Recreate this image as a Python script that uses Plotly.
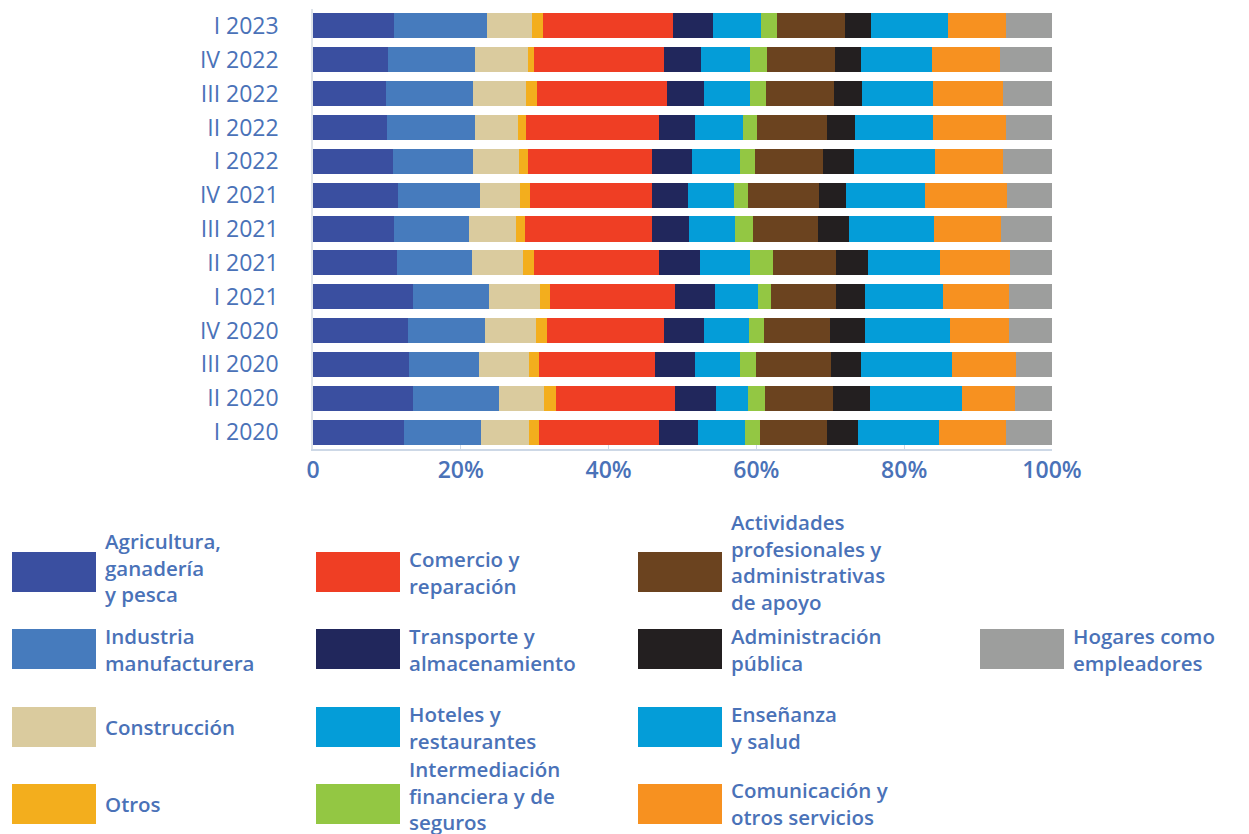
import plotly.graph_objects as go

# ---------------- data ----------------
periods = ["I 2023", "IV 2022", "III 2022", "II 2022", "I 2022", "IV 2021", "III 2021",
           "II 2021", "I 2021", "IV 2020", "III 2020", "II 2020", "I 2020"]

agricultura   = [11.0, 10.1, 9.9, 10.0, 10.8, 11.5, 11.0, 11.4, 13.5, 12.9, 13.0, 13.5, 12.3]
industria     = [12.6, 11.8, 11.8, 11.9, 10.8, 11.1, 10.1, 10.1, 10.3, 10.3, 9.5, 11.6, 10.4]
construccion  = [6.0, 7.2, 7.2, 5.8, 6.2, 5.4, 6.4, 6.9, 6.9, 6.9, 6.8, 6.1, 6.5]
otros         = [1.5, 0.8, 1.4, 1.2, 1.2, 1.4, 1.2, 1.5, 1.4, 1.5, 1.4, 1.6, 1.4]
comercio      = [17.6, 17.5, 17.6, 17.9, 16.8, 16.5, 17.2, 16.9, 16.9, 15.8, 15.7, 16.1, 16.2]
transporte    = [5.4, 5.1, 5.1, 4.9, 5.4, 4.9, 5.0, 5.5, 5.4, 5.5, 5.4, 5.5, 5.3]
hoteles       = [6.5, 6.6, 6.2, 6.6, 6.5, 6.2, 6.2, 6.8, 5.8, 6.1, 6.1, 4.3, 6.4]
intermediacion = [2.2, 2.3, 2.2, 1.8, 2.0, 1.9, 2.4, 3.1, 1.8, 2.0, 2.2, 2.3, 2.0]
actividades   = [9.2, 9.2, 9.2, 9.5, 9.3, 9.6, 8.9, 8.5, 8.8, 8.9, 10.1, 9.2, 9.1]
administracion = [3.5, 3.5, 3.7, 3.8, 4.1, 3.7, 4.1, 4.3, 3.9, 4.7, 4.1, 5.0, 4.2]
ensenanza     = [10.4, 9.6, 9.7, 10.6, 11.0, 10.7, 11.5, 9.7, 10.6, 11.5, 12.3, 12.4, 11.0]
comunicacion  = [7.9, 9.2, 9.5, 9.9, 9.2, 11.1, 9.1, 9.5, 8.9, 8.0, 8.7, 7.2, 9.1]
hogares       = [6.2, 7.0, 6.6, 6.2, 6.6, 6.1, 6.9, 5.7, 5.8, 5.8, 4.9, 5.0, 6.2]

x_tickvals = [0, 20, 40, 60, 80, 100]
x_ticktext = ["0", "20%", "40%", "60%", "80%", "100%"]

series = [
    ("Agricultura,<br>ganadería<br>y pesca", agricultura, "#3a4fa0"),
    ("Industria<br>manufacturera", industria, "#467bbd"),
    ("Construcción", construccion, "#dacb9e"),
    ("Otros", otros, "#f3ae1d"),
    ("Comercio y<br>reparación", comercio, "#ef3e24"),
    ("Transporte y<br>almacenamiento", transporte, "#21275c"),
    ("Hoteles y<br>restaurantes", hoteles, "#049dd8"),
    ("Intermediación<br>financiera y de<br>seguros", intermediacion, "#93c743"),
    ("Actividades<br>profesionales y<br>administrativas<br>de apoyo", actividades, "#6b431f"),
    ("Administración<br>pública", administracion, "#231f20"),
    ("Enseñanza<br>y salud", ensenanza, "#049dd8"),
    ("Comunicación y<br>otros servicios", comunicacion, "#f79120"),
    ("Hogares como<br>empleadores", hogares, "#9d9e9d"),
]
# legend grid slot (column, row) for each series
legend_slots = [(0, 0), (0, 1), (0, 2), (0, 3), (1, 0), (1, 1), (1, 2), (1, 3),
                (2, 0), (2, 1), (2, 2), (2, 3), (3, 1)]

TEXT = "#4a72b8"
FONT = "Open Sans"

fig = go.Figure()
for name, vals, col in series:
    fig.add_trace(go.Bar(
        y=periods, x=vals, orientation="h", name=name.replace("<br>", " "),
        marker=dict(color=col, line=dict(width=0)), showlegend=False,
    ))

# plot area in pixels
W, H = 1249, 834
L, R, T, B = 313, 1052, 9, 449

def px_x(p):
    return (p - L) / (R - L)

def px_y(p):
    return (B - p) / (B - T)

col_left = [12, 316, 638, 980]
row_center = [572, 649, 727, 804]
sw_w, sw_h = 84, 40

shapes = []
annotations = []
for (name, vals, col), (c, r) in zip(series, legend_slots):
    x0 = col_left[c]
    yc = row_center[r]
    shapes.append(dict(type="rect", xref="paper", yref="paper",
                       x0=px_x(x0), x1=px_x(x0 + sw_w),
                       y0=px_y(yc + sw_h / 2), y1=px_y(yc - sw_h / 2),
                       fillcolor=col, line=dict(width=0), layer="above"))
    n = name.count("<br>") + 1
    off = -10 if n == 4 else (-5 if n == 3 else 0)
    if n == 3 and r == 3:
        off = -9
    annotations.append(dict(xref="paper", yref="paper", x=px_x(x0 + sw_w + 8),
                            y=px_y(yc + off), xanchor="left", yanchor="middle",
                            text=name, showarrow=False, align="left", borderpad=0,
                            font=dict(family=FONT, size=20.5, color=TEXT, weight=600)))

fig.update_layout(
    width=W, height=H,
    barmode="stack", barnorm="percent", bargap=0.26,
    margin=dict(l=L, r=W - R, t=T, b=H - B),
    paper_bgcolor="white", plot_bgcolor="white",
    font=dict(family=FONT, color=TEXT),
    shapes=shapes, annotations=annotations,
    xaxis=dict(range=[0, 100], tickvals=x_tickvals, ticktext=x_ticktext,
               showgrid=False, zeroline=False, showline=True, linecolor="#cdd8e6",
               linewidth=1.5, ticks="inside", ticklen=4, tickcolor="#cdd8e6",
               tickfont=dict(family=FONT, size=23, color=TEXT, weight=600),
               fixedrange=True),
    yaxis=dict(autorange="reversed", showgrid=False, zeroline=False,
               showline=True, linecolor="#dde3ea", linewidth=1.5,
               ticks="", ticklabelstandoff=28,
               tickfont=dict(family=FONT, size=23, color=TEXT, weight=500)),
)

fig.write_html("out.html", config={"displayModeBar": False},
               post_script="document.body.style.margin='0px';document.body.style.overflow='hidden';")
